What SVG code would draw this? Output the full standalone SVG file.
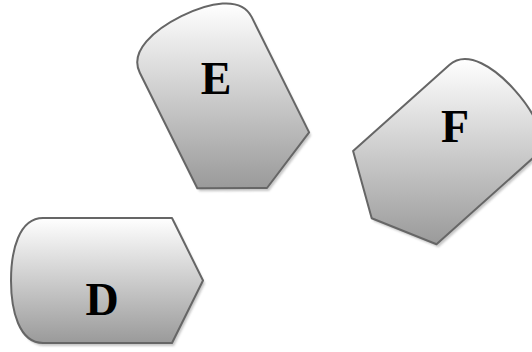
<svg xmlns="http://www.w3.org/2000/svg" width="532" height="352" viewBox="0 0 532 352">
<defs>
<linearGradient id="g" x1="0" y1="0" x2="0" y2="1">
<stop offset="0" stop-color="#ffffff"/>
<stop offset="1" stop-color="#9a9a9a"/>
</linearGradient>
<filter id="blur" x="-10%" y="-10%" width="120%" height="120%"><feGaussianBlur stdDeviation="1"/></filter>
</defs>
<style>
.shadow{fill:#b8b8b8;stroke:none;filter:url(#blur);opacity:0.8}
.shape{fill:url(#g);stroke:#666666;stroke-width:2;stroke-linejoin:round}
.lbl{font-family:"Liberation Serif","DejaVu Serif",serif;font-weight:bold;font-size:46px;fill:#000;text-anchor:middle}
</style>
<g id="connectors"/>
<g id="node-E">
<path class="shadow" transform="translate(2,3)" d="M251.6,16.9 L309.1,132.4 L267,188 L197.3,188.2 L139.8,72.7 C129,51.2 154.5,29.6 181.4,16.2 C208.2,2.8 240.9,-4.5 251.6,16.9 Z"/>
<path class="shape" d="M251.6,16.9 L309.1,132.4 L267,188 L197.3,188.2 L139.8,72.7 C129,51.2 154.5,29.6 181.4,16.2 C208.2,2.8 240.9,-4.5 251.6,16.9 Z"/>
<text class="lbl" x="216" y="94">E</text>
</g>
<g id="node-F">
<path class="shadow" transform="translate(2,3)" d="M532.7,158.2 L436.5,244.3 L371.7,218.3 L353.1,151 L449.3,65 C467.3,49 494.9,67.9 514.9,90.3 C534.9,112.7 550.6,142.2 532.7,158.2 Z"/>
<path class="shape" d="M532.7,158.2 L436.5,244.3 L371.7,218.3 L353.1,151 L449.3,65 C467.3,49 494.9,67.9 514.9,90.3 C534.9,112.7 550.6,142.2 532.7,158.2 Z"/>
<text class="lbl" x="455" y="142">F</text>
</g>
<g id="node-D">
<path class="shadow" transform="translate(2,3)" d="M43,218 L172,218 L203,280.5 L172,343 L43,343 C19,343 11,310.5 11,280.5 C11,250.5 19,218 43,218 Z"/>
<path class="shape" d="M43,218 L172,218 L203,280.5 L172,343 L43,343 C19,343 11,310.5 11,280.5 C11,250.5 19,218 43,218 Z"/>
<text class="lbl" x="102" y="315">D</text>
</g>
</svg>
